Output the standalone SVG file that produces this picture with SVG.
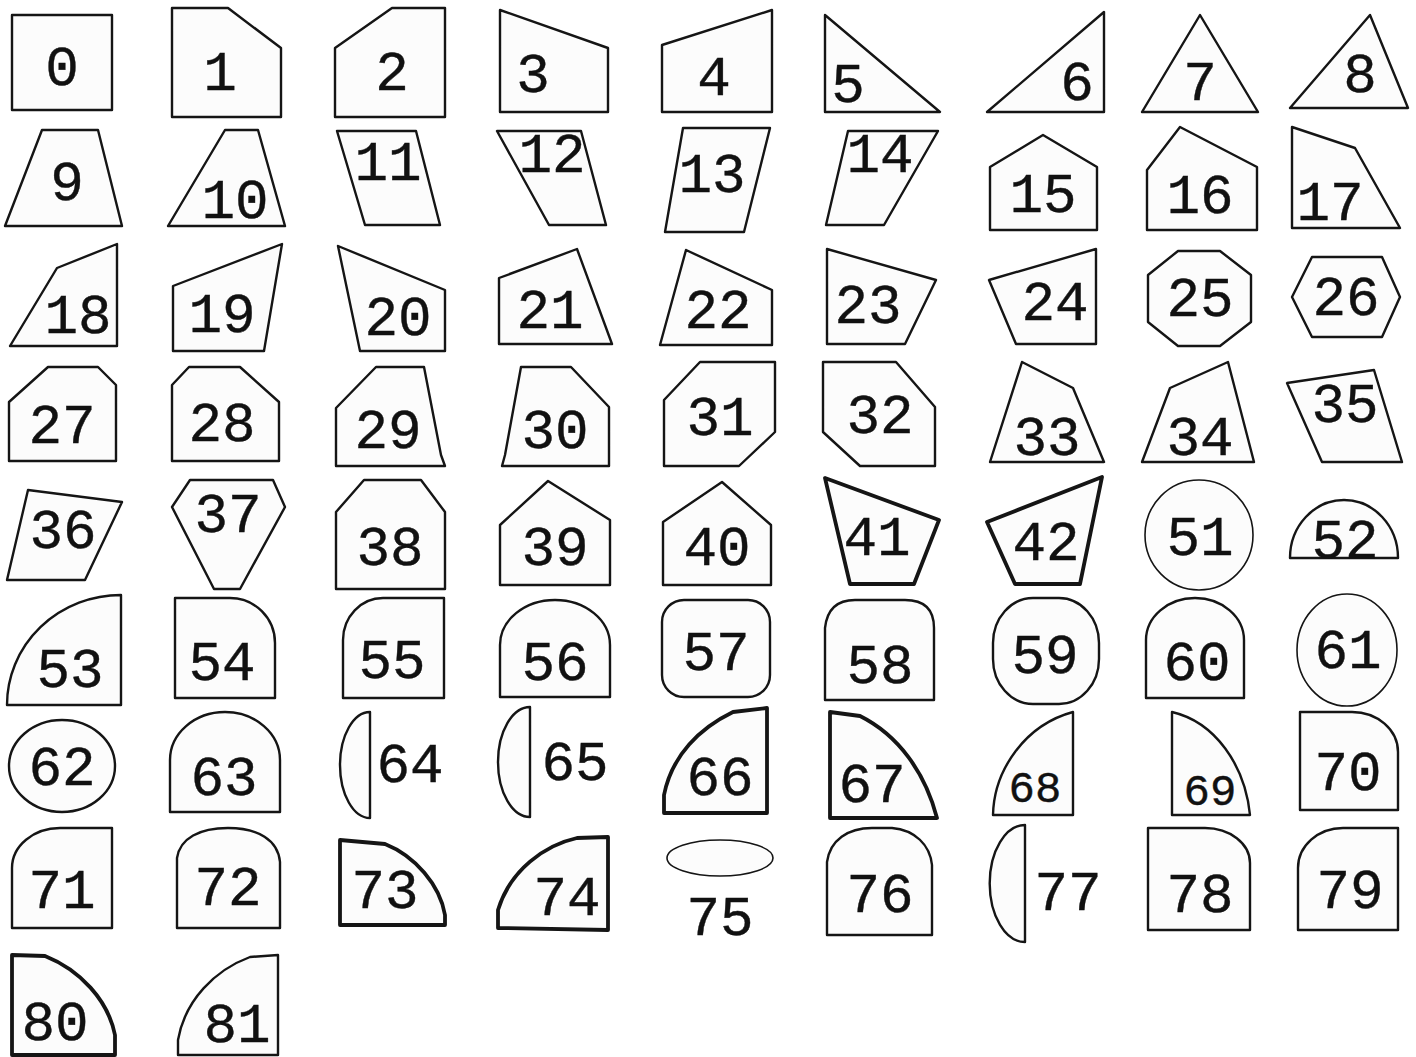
<svg xmlns="http://www.w3.org/2000/svg" width="1416" height="1057" viewBox="0 0 1416 1057">
<style>
.s{fill:#fcfcfc;stroke:#151515;stroke-width:2.4;stroke-linejoin:round}
.k{stroke-width:3.8}
.n{stroke-width:1.6}
.t{font-family:"Liberation Mono","DejaVu Sans Mono",monospace;font-size:56px;text-anchor:middle;fill:#111;stroke:#111;stroke-width:0.4}
.sm{font-size:44px}
</style>
<rect width="1416" height="1057" fill="#ffffff"/>
<g id="n0"><rect class="s" x="12" y="15" width="100" height="95"/><text class="t" x="62" y="85">0</text></g>
<g id="n1"><polygon class="s" points="172,8 228,8 281,48 281,117 172,117"/><text class="t" x="220" y="90">1</text></g>
<g id="n2"><polygon class="s" points="335,48 392,8 445,8 445,117 335,117"/><text class="t" x="392" y="90">2</text></g>
<g id="n3"><polygon class="s" points="500,10 608,48 608,112 500,112"/><text class="t" x="533" y="92">3</text></g>
<g id="n4"><polygon class="s" points="662,45 772,10 772,112 662,112"/><text class="t" x="714" y="95">4</text></g>
<g id="n5"><polygon class="s" points="825,15 940,112 825,112"/><text class="t" x="848" y="102">5</text></g>
<g id="n6"><polygon class="s" points="987,112 1104,12 1104,112"/><text class="t" x="1077" y="100">6</text></g>
<g id="n7"><polygon class="s" points="1142,112 1200,15 1258,112"/><text class="t" x="1200" y="100">7</text></g>
<g id="n8"><polygon class="s" points="1290,108 1370,15 1408,108"/><text class="t" x="1360" y="92">8</text></g>

<g id="n9"><polygon class="s" points="42,130 98,130 122,226 5,226"/><text class="t" x="67" y="200">9</text></g>
<g id="n10"><polygon class="s" points="225,130 258,130 285,226 168,226"/><text class="t" x="235" y="218">10</text></g>
<g id="n11"><polygon class="s" points="337,131 416,131 440,225 365,225"/><text class="t" x="388" y="180">11</text></g>
<g id="n12"><polygon class="s" points="497,131 581,131 606,225 549,225"/><text class="t" x="552" y="172">12</text></g>
<g id="n13"><polygon class="s" points="683,128 770,128 744,232 665,232"/><text class="t" x="712" y="192">13</text></g>
<g id="n14"><polygon class="s" points="848,131 938,131 884,225 826,225"/><text class="t" x="880" y="172">14</text></g>
<g id="n15"><polygon class="s" points="990,167 1043,135 1097,167 1097,230 990,230"/><text class="t" x="1043" y="212">15</text></g>
<g id="n16"><polygon class="s" points="1147,170 1180,127 1257,167 1257,230 1147,230"/><text class="t" x="1200" y="213">16</text></g>
<g id="n17"><polygon class="s" points="1292,127 1355,148 1400,228 1292,228"/><text class="t" x="1330" y="220">17</text></g>

<g id="n18"><polygon class="s" points="57,268 117,244 117,346 10,346"/><text class="t" x="78" y="333">18</text></g>
<g id="n19"><polygon class="s" points="173,286 282,244 264,351 173,351"/><text class="t" x="222" y="332">19</text></g>
<g id="n20"><polygon class="s" points="338,246 445,290 445,351 360,351"/><text class="t" x="398" y="335">20</text></g>
<g id="n21"><polygon class="s" points="499,278 577,249 612,344 499,344"/><text class="t" x="550" y="328">21</text></g>
<g id="n22"><polygon class="s" points="660,345 686,250 772,290 772,345"/><text class="t" x="718" y="328">22</text></g>
<g id="n23"><polygon class="s" points="827,249 936,280 905,344 827,344"/><text class="t" x="868" y="323">23</text></g>
<g id="n24"><polygon class="s" points="989,280 1096,249 1096,344 1016,344"/><text class="t" x="1055" y="320">24</text></g>
<g id="n25"><polygon class="s" points="1178,251 1220,251 1251,275 1251,322 1220,346 1178,346 1148,322 1148,275"/><text class="t" x="1200" y="316">25</text></g>
<g id="n26"><polygon class="s" points="1312,257 1382,257 1400,297 1382,337 1312,337 1292,297"/><text class="t" x="1346" y="315">26</text></g>

<g id="n27"><polygon class="s" points="48,367 98,367 116,385 116,461 9,461 9,402"/><text class="t" x="62" y="443">27</text></g>
<g id="n28"><polygon class="s" points="189,367 240,367 279,402 279,461 172,461 172,385"/><text class="t" x="222" y="441">28</text></g>
<g id="n29"><polygon class="s" points="376,367 424,367 441,455 445,466 336,466 336,408"/><text class="t" x="388" y="448">29</text></g>
<g id="n30"><polygon class="s" points="521,367 571,367 609,407 609,466 502,466 505,455"/><text class="t" x="555" y="448">30</text></g>
<g id="n31"><polygon class="s" points="700,362 775,362 775,432 739,466 664,466 664,400"/><text class="t" x="720" y="435">31</text></g>
<g id="n32"><polygon class="s" points="823,362 896,362 935,407 935,466 860,466 823,432"/><text class="t" x="880" y="433">32</text></g>
<g id="n33"><polygon class="s" points="1022,362 1073,388 1104,462 990,462"/><text class="t" x="1047" y="455">33</text></g>
<g id="n34"><polygon class="s" points="1142,462 1170,388 1228,362 1254,462"/><text class="t" x="1200" y="455">34</text></g>
<g id="n35"><polygon class="s" points="1287,383 1374,370 1402,462 1322,462"/><text class="t" x="1345" y="422">35</text></g>

<g id="n36"><polygon class="s" points="28,490 122,502 85,580 7,580"/><text class="t" x="63" y="548">36</text></g>
<g id="n37"><polygon class="s" points="190,480 273,480 285,507 240,589 214,589 172,507"/><text class="t" x="228" y="532">37</text></g>
<g id="n38"><polygon class="s" points="364,480 421,480 445,512 445,589 336,589 336,512"/><text class="t" x="390" y="565">38</text></g>
<g id="n39"><polygon class="s" points="548,481 610,520 610,585 500,585 500,525"/><text class="t" x="555" y="565">39</text></g>
<g id="n40"><polygon class="s" points="663,522 722,482 771,525 771,585 663,585"/><text class="t" x="717" y="565">40</text></g>
<g id="n41"><polygon class="s k" points="825,478 939,520 914,584 850,584"/><text class="t" x="877" y="555">41</text></g>
<g id="n42"><polygon class="s k" points="987,522 1102,477 1080,584 1015,584"/><text class="t" x="1046" y="560">42</text></g>
<g id="n51"><ellipse class="s n" cx="1199" cy="535" rx="54" ry="55"/><text class="t" x="1200" y="555">51</text></g>
<g id="n52"><path class="s" d="M1290,558 A54,58 0 0,1 1398,558 Z"/><text class="t" x="1345" y="558">52</text></g>

<g id="n53"><path class="s" d="M7,705 A114,110 0 0,1 121,595 L121,705 Z"/><text class="t" x="70" y="687">53</text></g>
<g id="n54"><path class="s" d="M175,598 L230,598 A45,45 0 0,1 275,643 L275,698 L175,698 Z"/><text class="t" x="222" y="680">54</text></g>
<g id="n55"><path class="s" d="M343,698 L343,640 A40,42 0 0,1 383,598 L444,598 L444,698 Z"/><text class="t" x="392" y="678">55</text></g>
<g id="n56"><path class="s" d="M500,697 L500,645 A55,45 0 0,1 610,645 L610,697 Z"/><text class="t" x="555" y="680">56</text></g>
<g id="n57"><rect class="s" x="662" y="600" width="108" height="97" rx="22"/><text class="t" x="716" y="670">57</text></g>
<g id="n58"><path class="s" d="M825,700 L825,628 Q828,600 855,600 L905,600 Q934,600 934,628 L934,700 Z"/><text class="t" x="880" y="683">58</text></g>
<g id="n59"><rect class="s" x="993" y="598" width="106" height="106" rx="40" ry="45"/><text class="t" x="1045" y="673">59</text></g>
<g id="n60"><path class="s" d="M1146,698 L1146,640 A49,42 0 0,1 1244,640 L1244,698 Z"/><text class="t" x="1197" y="680">60</text></g>
<g id="n61"><ellipse class="s n" cx="1347" cy="650" rx="50" ry="56"/><text class="t" x="1348" y="668">61</text></g>

<g id="n62"><ellipse class="s" cx="62" cy="766" rx="53" ry="46"/><text class="t" x="62" y="785">62</text></g>
<g id="n63"><path class="s" d="M170,812 L170,760 A55,48 0 0,1 280,760 L280,812 Z"/><text class="t" x="224" y="795">63</text></g>
<g id="n64"><path class="s" d="M370,712 A30,53 0 0,0 370,818 Z"/><text class="t" x="410" y="782">64</text></g>
<g id="n65"><path class="s" d="M530,707 A32,55 0 0,0 530,817 Z"/><text class="t" x="575" y="780">65</text></g>
<g id="n66"><path class="s k" d="M664,813 L664,795 C672,755 700,728 733,712 L767,708 L767,813 Z"/><text class="t" x="720" y="795">66</text></g>
<g id="n67"><path class="s k" d="M830,712 L860,716 C898,735 925,772 937,818 L830,818 Z"/><text class="t" x="872" y="802">67</text></g>
<g id="n68"><path class="s" d="M993,815 C994,770 1025,725 1073,712 L1073,815 Z"/><text class="t sm" x="1035" y="802">68</text></g>
<g id="n69"><path class="s" d="M1172,712 C1215,722 1245,765 1250,815 L1172,815 Z"/><text class="t sm" x="1210" y="805">69</text></g>
<g id="n70"><path class="s" d="M1300,712 L1352,712 A46,40 0 0,1 1398,752 L1398,810 L1300,810 Z"/><text class="t" x="1348" y="790">70</text></g>

<g id="n71"><path class="s" d="M12,928 L12,868 A48,40 0 0,1 60,828 L112,828 L112,928 Z"/><text class="t" x="62" y="908">71</text></g>
<g id="n72"><path class="s" d="M177,928 L177,858 C180,838 200,828 228,828 C258,828 278,840 280,862 L280,928 Z"/><text class="t" x="228" y="905">72</text></g>
<g id="n73"><path class="s k" d="M340,840 L385,844 C415,856 440,885 445,915 L445,925 L340,925 Z"/><text class="t" x="385" y="908">73</text></g>
<g id="n74"><path class="s k" d="M498,928 L498,910 C510,870 545,845 577,838 L608,837 L608,930 Z"/><text class="t" x="567" y="915">74</text></g>
<g id="n75"><ellipse class="s n" cx="720" cy="858" rx="53" ry="18"/><text class="t" x="720" y="935">75</text></g>
<g id="n76"><path class="s" d="M827,935 L827,862 C830,840 848,828 872,828 L892,828 C915,830 930,845 932,865 L932,935 Z"/><text class="t" x="880" y="912">76</text></g>
<g id="n77"><path class="s" d="M1025,825 A35,58 0 0,0 1025,942 Z"/><text class="t" x="1068" y="910">77</text></g>
<g id="n78"><path class="s" d="M1148,828 L1205,828 A45,35 0 0,1 1250,863 L1250,930 L1148,930 Z"/><text class="t" x="1200" y="912">78</text></g>
<g id="n79"><path class="s" d="M1298,930 L1298,868 A45,40 0 0,1 1343,828 L1398,828 L1398,930 Z"/><text class="t" x="1350" y="908">79</text></g>

<g id="n80"><path class="s k" d="M12,955 L45,956 C80,970 108,1000 115,1035 L115,1055 L12,1055 Z"/><text class="t" x="55" y="1040">80</text></g>
<g id="n81"><path class="s" d="M178,1055 L178,1040 C185,1000 215,970 250,957 L278,955 L278,1055 Z"/><text class="t" x="237" y="1042">81</text></g>
<g id="connectors"></g>
</svg>
